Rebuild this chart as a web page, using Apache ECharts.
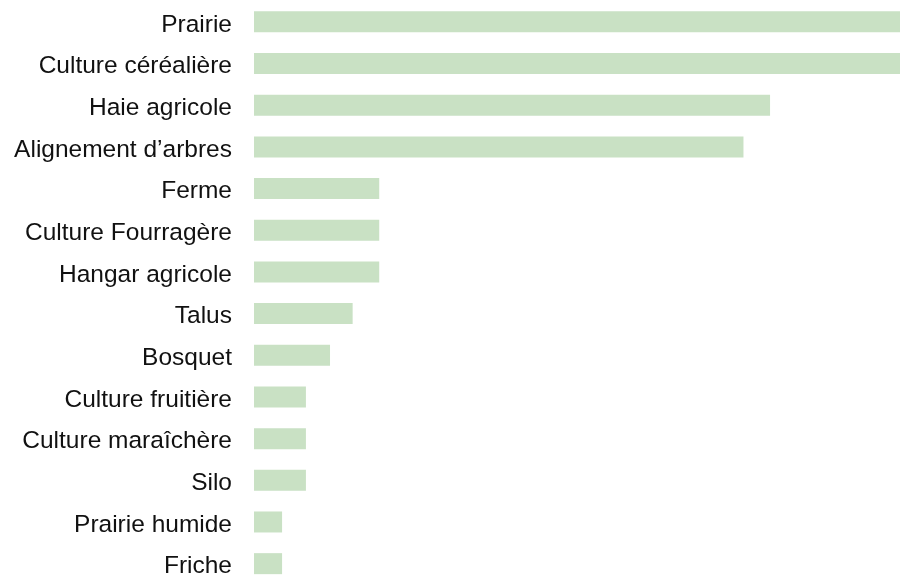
<!DOCTYPE html>
<html>
<head>
<meta charset="utf-8">
<script src="https://cdn.jsdelivr.net/npm/echarts@6/dist/echarts.min.js"></script>
<style>
html,body{margin:0;padding:0;background:#fff;}
#chart{width:900px;height:575px;}
</style>
</head>
<body>
<div id="chart"></div>
<script>
const categories = ["Prairie","Culture céréalière","Haie agricole","Alignement d’arbres","Ferme","Culture Fourragère","Hangar agricole","Talus","Bosquet","Culture fruitière","Culture maraîchère","Silo","Prairie humide","Friche"];
const values = [26, 26, 20.77, 19.7, 5.04, 5.04, 5.04, 3.97, 3.06, 2.09, 2.09, 2.09, 1.13, 1.13];
const axisMax = 26;

const chart = echarts.init(document.getElementById('chart'), null, {renderer:'canvas'});
chart.setOption({
  animation: false,
  backgroundColor: '#ffffff',
  grid: {left: 254, right: 0, top: 1, height: 583.5, containLabel: false, outerBoundsMode: 'none'},
  xAxis: {
    type: 'value', min: 0, max: axisMax, show: false
  },
  yAxis: {
    type: 'category', data: categories, inverse: true,
    axisLine: {show: false}, axisTick: {show: false}, splitLine: {show: false},
    axisLabel: {
      interval: 0, margin: 22, fontSize: 24.5, color: '#111111',
      verticalAlign: 'top', lineHeight: 6,
      fontFamily: '"Liberation Sans", Arial, Helvetica, sans-serif'
    }
  },
  series: [{
    type: 'bar', data: values, barWidth: 21,
    itemStyle: {color: '#c9e1c4'},
    silent: true
  }]
});
</script>
</body>
</html>
